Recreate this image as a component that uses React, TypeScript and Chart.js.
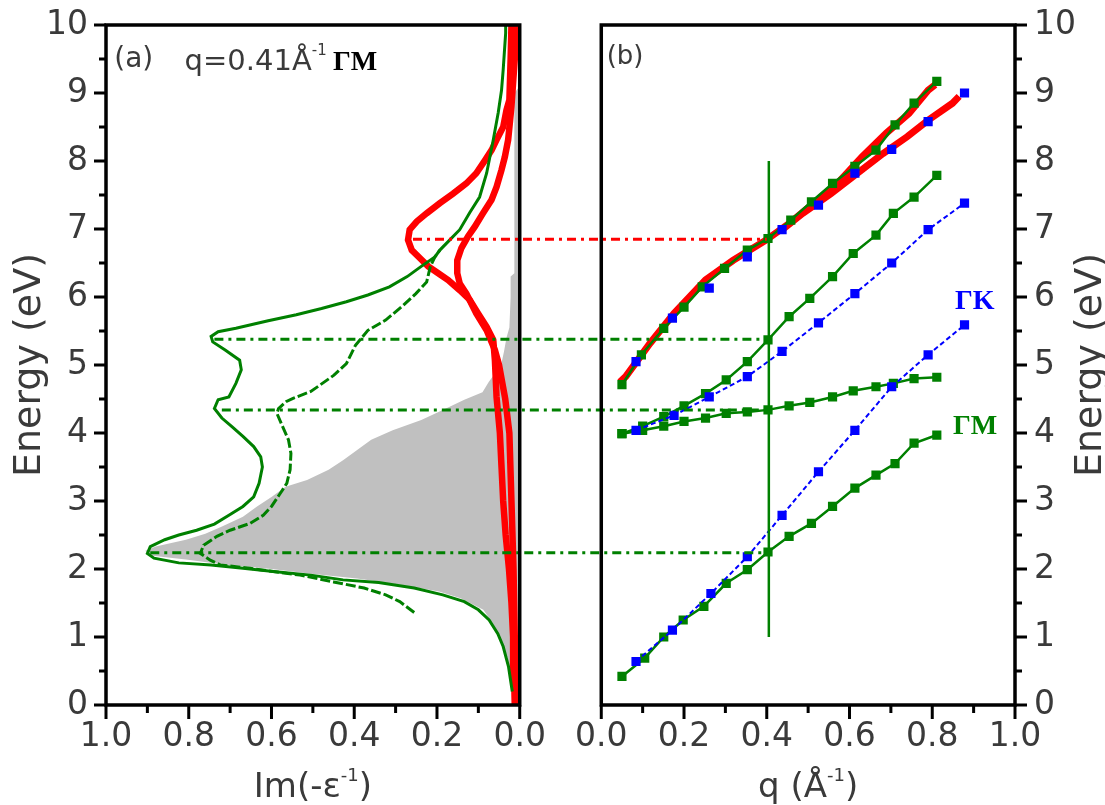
import React, { useEffect, useRef } from 'react';
import { Chart, registerables } from 'chart.js';

Chart.register(...registerables);

const SANS = "'DejaVu Sans', 'Liberation Sans', Arial, sans-serif";
const SERIF = "'Liberation Serif', 'DejaVu Serif', 'Times New Roman', serif";
const TXT = '#3a3a3a';
const GREEN = '#008000';
const RED = '#ff0000';
const BLUE = '#0000ff';
const GRAY = '#c0c0c0';

// ---------------- Panel (a): Im(-1/eps) versus energy ----------------
const grayE = [0, 0.3, 0.7, 1.0, 1.2, 1.4, 1.57, 1.67, 1.76, 1.86, 1.93, 2.0, 2.07, 2.14, 2.2, 2.27, 2.33, 2.43, 2.52, 2.62, 2.77, 2.92, 3.06, 3.21, 3.31, 3.46, 3.6, 3.75, 3.9, 4.04, 4.19, 4.34, 4.49, 4.6, 4.75, 5.0, 5.2, 5.4, 5.55, 6.0, 6.3, 6.35, 9.0, 9.1];
const grayIm = [0.012, 0.018, 0.03, 0.05, 0.065, 0.088, 0.143, 0.195, 0.281, 0.393, 0.505, 0.6, 0.72, 0.807, 0.893, 0.905, 0.88, 0.807, 0.76, 0.721, 0.669, 0.635, 0.6, 0.566, 0.514, 0.462, 0.427, 0.393, 0.359, 0.307, 0.238, 0.186, 0.134, 0.09, 0.075, 0.045, 0.038, 0.032, 0.025, 0.022, 0.022, 0.013, 0.013, 0.0];

const greenSolidE = [0.2, 0.56, 0.86, 1.05, 1.25, 1.4, 1.52, 1.62, 1.72, 1.8, 1.84, 1.91, 1.96, 2.01, 2.06, 2.09, 2.16, 2.23, 2.33, 2.43, 2.5, 2.57, 2.66, 2.79, 2.92, 3.06, 3.26, 3.5, 3.65, 3.8, 3.95, 4.09, 4.22, 4.36, 4.49, 4.53, 4.73, 4.93, 5.07, 5.22, 5.34, 5.42, 5.49, 5.54, 5.65, 5.74, 5.83, 5.93, 6.03, 6.15, 6.3, 6.45, 6.59, 6.69, 6.84, 6.99, 7.24, 7.47, 7.82, 8.31, 8.71, 9.04, 9.34, 9.88, 10];
const greenSolidIm = [0.018, 0.027, 0.04, 0.053, 0.074, 0.1, 0.134, 0.186, 0.255, 0.341, 0.427, 0.505, 0.59, 0.669, 0.746, 0.824, 0.884, 0.9, 0.893, 0.858, 0.824, 0.781, 0.738, 0.703, 0.669, 0.643, 0.63, 0.622, 0.626, 0.643, 0.669, 0.695, 0.72, 0.738, 0.729, 0.703, 0.686, 0.673, 0.677, 0.712, 0.742, 0.746, 0.729, 0.686, 0.608, 0.54, 0.479, 0.419, 0.367, 0.315, 0.272, 0.238, 0.205, 0.193, 0.169, 0.145, 0.121, 0.097, 0.08, 0.064, 0.052, 0.044, 0.04, 0.034, 0.034];

const greenDashE = [1.36, 1.52, 1.62, 1.72, 1.81, 1.91, 2.01, 2.06, 2.13, 2.23, 2.35, 2.48, 2.57, 2.67, 2.79, 2.92, 3.11, 3.26, 3.46, 3.7, 3.9, 4.12, 4.29, 4.36, 4.46, 4.51, 4.61, 4.85, 5.02, 5.29, 5.51, 5.66, 5.88, 6.05, 6.22, 6.45, 6.59, 6.69];
const greenDashIm = [0.255, 0.29, 0.324, 0.376, 0.45, 0.531, 0.652, 0.724, 0.748, 0.772, 0.764, 0.732, 0.7, 0.652, 0.62, 0.6, 0.579, 0.563, 0.555, 0.553, 0.559, 0.575, 0.587, 0.583, 0.565, 0.548, 0.505, 0.449, 0.419, 0.397, 0.367, 0.324, 0.281, 0.251, 0.225, 0.216, 0.205, 0.193];

const redAE = [0, 0.5, 1.0, 1.5, 2.0, 2.5, 3.0, 3.5, 4.0, 4.53, 5.07, 5.37, 5.56, 5.76, 5.96, 6.1, 6.25, 6.35, 6.45, 6.57, 6.69, 6.84, 6.99, 7.11, 7.23, 7.38, 7.52, 7.67, 7.82, 8.01, 8.16, 8.31, 8.5, 8.75, 8.9, 9.5, 10];
const redAIm = [0.012, 0.014, 0.016, 0.02, 0.026, 0.034, 0.04, 0.044, 0.048, 0.056, 0.06, 0.064, 0.08, 0.101, 0.121, 0.145, 0.173, 0.197, 0.221, 0.241, 0.261, 0.27, 0.266, 0.249, 0.225, 0.193, 0.161, 0.129, 0.105, 0.084, 0.068, 0.056, 0.04, 0.032, 0.025, 0.022, 0.02];

const redBE = [0, 1.0, 2.0, 3.0, 4.0, 4.5, 5.0, 5.22, 5.51, 5.76, 6.05, 6.2, 6.35, 6.54, 6.72, 6.89, 7.03, 7.23, 7.43, 7.62, 7.87, 8.06, 8.31, 8.8, 9.5, 10];
const redBIm = [0.01, 0.012, 0.015, 0.02, 0.025, 0.035, 0.05, 0.06, 0.08, 0.105, 0.129, 0.145, 0.151, 0.151, 0.141, 0.125, 0.109, 0.089, 0.068, 0.056, 0.044, 0.036, 0.028, 0.02, 0.012, 0.01];

// dash-dot guide lines linking panel (a) peaks to q = 0.41 in panel (b)
const guideE = [6.85, 5.38, 4.34, 2.24];
const guideImStart = [0.258, 0.738, 0.72, 0.893];
const guideQEnd = [0.4, 0.4, 0.4, 0.4];
const guideColor = [RED, GREEN, GREEN, GREEN];

// ---------------- Panel (b): dispersion E(q) ----------------
const qGreenTop = [0.05, 0.097, 0.151, 0.2, 0.244, 0.298, 0.353, 0.403, 0.458, 0.508, 0.559, 0.613, 0.664, 0.71, 0.756, 0.811];
const eGreenTop = [4.71, 5.15, 5.54, 5.85, 6.15, 6.42, 6.69, 6.86, 7.13, 7.4, 7.67, 7.92, 8.16, 8.53, 8.85, 9.17];

const qBlueTop = [0.084, 0.172, 0.261, 0.353, 0.437, 0.525, 0.613, 0.702, 0.79, 0.878];
const eBlueTop = [5.05, 5.69, 6.13, 6.59, 6.99, 7.35, 7.82, 8.17, 8.58, 9.0];

const qRedTopA = [0.045, 0.059, 0.118, 0.176, 0.252, 0.319, 0.399, 0.454, 0.504, 0.571, 0.63, 0.689, 0.744, 0.79, 0.807];
const eRedTopA = [4.75, 4.83, 5.32, 5.76, 6.25, 6.54, 6.84, 7.08, 7.33, 7.67, 8.06, 8.41, 8.7, 9.04, 9.12];

const qRedTopB = [0.437, 0.487, 0.555, 0.63, 0.681, 0.74, 0.79, 0.849, 0.865];
const eRedTopB = [6.99, 7.23, 7.52, 7.87, 8.11, 8.36, 8.6, 8.85, 8.95];

const qGreenMid = [0.05, 0.1, 0.151, 0.2, 0.252, 0.302, 0.353, 0.403, 0.454, 0.504, 0.559, 0.609, 0.664, 0.706, 0.756, 0.811];
const eGreenMid = [3.99, 4.1, 4.24, 4.4, 4.58, 4.78, 5.05, 5.37, 5.71, 5.98, 6.3, 6.64, 6.91, 7.23, 7.47, 7.79];

const qGreenFlat = [0.05, 0.1, 0.151, 0.2, 0.252, 0.302, 0.353, 0.403, 0.454, 0.504, 0.559, 0.609, 0.664, 0.706, 0.756, 0.811];
const eGreenFlat = [3.99, 4.04, 4.1, 4.17, 4.22, 4.29, 4.31, 4.34, 4.4, 4.45, 4.53, 4.62, 4.68, 4.73, 4.8, 4.82];

const qBlueMid = [0.084, 0.176, 0.261, 0.353, 0.437, 0.525, 0.613, 0.702, 0.79, 0.878];
const eBlueMid = [4.04, 4.26, 4.53, 4.83, 5.2, 5.62, 6.05, 6.5, 6.99, 7.38];

const qGreenLow = [0.05, 0.105, 0.151, 0.198, 0.248, 0.302, 0.353, 0.403, 0.454, 0.508, 0.559, 0.613, 0.664, 0.71, 0.756, 0.811];
const eGreenLow = [0.42, 0.69, 1.0, 1.25, 1.45, 1.79, 1.99, 2.25, 2.48, 2.67, 2.92, 3.19, 3.38, 3.55, 3.85, 3.97];

const qBlueLow = [0.084, 0.172, 0.265, 0.353, 0.437, 0.525, 0.613, 0.702, 0.79, 0.878];
const eBlueLow = [0.64, 1.1, 1.64, 2.18, 2.79, 3.43, 4.04, 4.68, 5.15, 5.59];

const qCut = [0.405, 0.405];
const eCut = [1.0, 8.0];

// axis ticks
const energyTicks = [0, 1, 2, 3, 4, 5, 6, 7, 8, 9, 10];
const fracTicks = [0, 0.2, 0.4, 0.6, 0.8, 1.0];

const xy = (xs: number[], ys: number[]) => xs.map((x, i) => ({ x, y: ys[i] }));

const leftLine = (label: string, im: number[], e: number[], color: string, width: number, dash: number[], order: number) => ({
  label,
  data: xy(im, e),
  xAxisID: 'xL',
  yAxisID: 'y',
  indexAxis: 'y',
  borderColor: color,
  backgroundColor: color,
  borderWidth: width,
  borderDash: dash,
  pointRadius: 0,
  fill: false,
  tension: 0,
  order,
});

const rightLine = (label: string, q: number[], e: number[], color: string, width: number, dash: number[], marker: boolean, order: number, showLine = true) => ({
  label,
  data: xy(q, e),
  xAxisID: 'xR',
  yAxisID: 'y',
  borderColor: color,
  backgroundColor: color,
  pointBackgroundColor: color,
  borderWidth: width,
  borderDash: dash,
  pointStyle: 'rect',
  pointRadius: marker ? 6.5 : 0,
  pointBorderWidth: 0,
  showLine,
  fill: false,
  tension: 0,
  order,
});

const PANEL_FRAC = 414 / 909.6;

function richText(ctx: CanvasRenderingContext2D, parts: { t: string; font: string; dy: number; color?: string }[], x: number, y: number, align: 'left' | 'center') {
  let total = 0;
  for (const p of parts) {
    ctx.font = p.font;
    total += ctx.measureText(p.t).width;
  }
  let cx = align === 'center' ? x - total / 2 : x;
  ctx.textAlign = 'left';
  for (const p of parts) {
    ctx.font = p.font;
    ctx.fillStyle = p.color || TXT;
    ctx.fillText(p.t, cx, y + p.dy);
    cx += ctx.measureText(p.t).width;
  }
}

const panelPlugin = {
  id: 'panels',
  afterLayout(chart: any) {
    const { left, right } = chart.chartArea;
    const w = (right - left) * PANEL_FRAC;
    const xL = chart.scales.xL;
    const xR = chart.scales.xR;
    xL.left = left; xL.right = left + w; xL.width = w; xL.configure();
    xR.left = right - w; xR.right = right; xR.width = w; xR.configure();
  },
  afterDatasetsDraw(chart: any) {
    const ctx: CanvasRenderingContext2D = chart.ctx;
    const { xL, xR, y } = chart.scales;
    ctx.save();
    // guide lines
    ctx.lineWidth = 3;
    ctx.setLineDash([9, 5, 3, 5]);
    guideE.forEach((e, i) => {
      const py = y.getPixelForValue(e);
      ctx.strokeStyle = guideColor[i];
      ctx.beginPath();
      ctx.moveTo(xL.getPixelForValue(guideImStart[i]), py);
      ctx.lineTo(xR.getPixelForValue(guideQEnd[i]), py);
      ctx.stroke();
    });
    ctx.setLineDash([]);
    // frames
    ctx.strokeStyle = '#000';
    ctx.lineWidth = 3.5;
    ctx.strokeRect(xL.left, y.top, xL.right - xL.left, y.bottom - y.top);
    ctx.strokeRect(xR.left, y.top, xR.right - xR.left, y.bottom - y.top);
    // ticks
    ctx.lineWidth = 3;
    ctx.beginPath();
    for (let k = 0; k <= 20; k++) {
      const e = k / 2;
      const py = y.getPixelForValue(e);
      const len = k % 2 === 0 ? 12 : 7;
      ctx.moveTo(xL.left, py); ctx.lineTo(xL.left - len, py);
      ctx.moveTo(xR.right, py); ctx.lineTo(xR.right + len, py);
    }
    for (let k = 0; k <= 10; k++) {
      const v = k / 10;
      const len = k % 2 === 0 ? 14 : 8;
      const pl = xL.getPixelForValue(v);
      const pr = xR.getPixelForValue(v);
      ctx.moveTo(pl, y.bottom); ctx.lineTo(pl, y.bottom + len);
      ctx.moveTo(pr, y.bottom); ctx.lineTo(pr, y.bottom + len);
    }
    ctx.stroke();
    ctx.restore();
  },
  afterDraw(chart: any) {
    const ctx: CanvasRenderingContext2D = chart.ctx;
    const { xL, xR, y } = chart.scales;
    const area = chart.chartArea;
    ctx.save();
    ctx.textBaseline = 'alphabetic';
    // panel annotations
    richText(ctx, [{ t: '(a)', font: `28px ${SANS}`, dy: 0 }], xL.getPixelForValue(0.98), y.getPixelForValue(9.38), 'left');
    richText(ctx, [
      { t: 'q=0.41Å', font: `29px ${SANS}`, dy: 0 },
      { t: '-1', font: `15px ${SANS}`, dy: -15 },
      { t: ' ', font: `20px ${SANS}`, dy: 0 },
      { t: 'ΓM', font: `bold 28px ${SERIF}`, dy: 0, color: '#000' },
    ], xL.getPixelForValue(0.81), y.getPixelForValue(9.34), 'left');
    richText(ctx, [{ t: '(b)', font: `26px ${SANS}`, dy: 0 }], xR.getPixelForValue(0.013), y.getPixelForValue(9.42), 'left');
    richText(ctx, [{ t: 'ΓK', font: `bold 28px ${SERIF}`, dy: 0, color: BLUE }], xR.getPixelForValue(0.855), y.getPixelForValue(5.82), 'left');
    richText(ctx, [{ t: 'ΓM', font: `bold 28px ${SERIF}`, dy: 0, color: GREEN }], xR.getPixelForValue(0.85), y.getPixelForValue(3.98), 'left');
    // x-axis titles
    const ty = area.bottom + 92;
    richText(ctx, [
      { t: 'Im(-ε', font: `34px ${SANS}`, dy: 0 },
      { t: '-1', font: `18px ${SANS}`, dy: -16 },
      { t: ')', font: `34px ${SANS}`, dy: 0 },
    ], (xL.left + xL.right) / 2, ty, 'center');
    richText(ctx, [
      { t: 'q (Å', font: `34px ${SANS}`, dy: 0 },
      { t: '-1', font: `18px ${SANS}`, dy: -16 },
      { t: ')', font: `34px ${SANS}`, dy: 0 },
    ], (xR.left + xR.right) / 2, ty, 'center');
    // y-axis titles (both read bottom-to-top)
    const cy = (area.top + area.bottom) / 2;
    for (const cx of [area.left - 76, area.right + 76]) {
      ctx.save();
      ctx.translate(cx, cy);
      ctx.rotate(-Math.PI / 2);
      ctx.font = `38px ${SANS}`;
      ctx.fillStyle = TXT;
      ctx.textAlign = 'center';
      ctx.textBaseline = 'middle';
      ctx.fillText('Energy (eV)', 0, 0);
      ctx.restore();
    }
    ctx.restore();
  },
};

const tickFont = { family: SANS, size: 33 };

const fitY = (w: number) => (s: any) => {
  s.width = w;
  s.paddingTop = 0;
  s.paddingBottom = 0;
};

export default function App() {
  const ref = useRef<HTMLCanvasElement>(null);
  useEffect(() => {
    document.body.style.margin = '0';
    document.body.style.overflow = 'hidden';
    const datasets: any[] = [
      // panel (a)
      {
        label: 'loss function',
        data: xy(grayIm, grayE),
        xAxisID: 'xL',
        yAxisID: 'y',
        indexAxis: 'y',
        borderWidth: 0,
        borderColor: GRAY,
        backgroundColor: GRAY,
        pointRadius: 0,
        fill: 'origin',
        tension: 0,
        order: 20,
      },
      leftLine('exp A', redAIm, redAE, RED, 6.5, [], 12),
      leftLine('exp B', redBIm, redBE, RED, 6.5, [], 12),
      leftLine('calc', greenSolidIm, greenSolidE, GREEN, 3, [], 8),
      leftLine('calc dashed', greenDashIm, greenDashE, GREEN, 3, [10, 3], 8),
      // panel (b)
      rightLine('red A', qRedTopA, eRedTopA, RED, 7, [], false, 12),
      rightLine('red B', qRedTopB, eRedTopB, RED, 7, [], false, 12),
      rightLine('GM top', qGreenTop, eGreenTop, GREEN, 2.5, [], true, 6),
      rightLine('GM mid', qGreenMid, eGreenMid, GREEN, 2.5, [], true, 6),
      rightLine('GM flat', qGreenFlat, eGreenFlat, GREEN, 2.5, [], true, 6),
      rightLine('GM low', qGreenLow, eGreenLow, GREEN, 2.5, [], true, 6),
      rightLine('GK top', qBlueTop, eBlueTop, BLUE, 2, [5, 3], true, 5, false),
      rightLine('GK mid', qBlueMid, eBlueMid, BLUE, 2, [5, 3], true, 5),
      rightLine('GK low', qBlueLow, eBlueLow, BLUE, 2, [5, 3], true, 5),
      rightLine('q cut', qCut, eCut, GREEN, 2.5, [], false, 2),
    ];
    const chart = new Chart(ref.current as HTMLCanvasElement, {
      type: 'line',
      data: { datasets },
      options: {
        responsive: false,
        animation: false,
        devicePixelRatio: 1,
        layout: { padding: { top: 25, left: 0, right: 0, bottom: 0 } },
        plugins: { legend: { display: false }, tooltip: { enabled: false } },
        scales: {
          xL: {
            type: 'linear', axis: 'x', position: 'bottom', stack: 'bottom', stackWeight: 1,
            min: 0, max: 1, reverse: true,
            grid: { display: false, drawTicks: false }, border: { display: false },
            afterBuildTicks: (s: any) => { s.ticks = fracTicks.map((v) => ({ value: v })); },
            ticks: { font: tickFont, color: TXT, padding: 13, maxRotation: 0, autoSkip: false, callback: (v: any) => Number(v).toFixed(1) },
            afterFit: (s: any) => { s.height = 100; },
          },
          xR: {
            type: 'linear', axis: 'x', position: 'bottom', stack: 'bottom', stackWeight: 1,
            min: 0, max: 1,
            grid: { display: false, drawTicks: false }, border: { display: false },
            afterBuildTicks: (s: any) => { s.ticks = fracTicks.map((v) => ({ value: v })); },
            ticks: { font: tickFont, color: TXT, padding: 13, maxRotation: 0, autoSkip: false, callback: (v: any) => Number(v).toFixed(1) },
            afterFit: (s: any) => { s.height = 100; },
          },
          y: {
            type: 'linear', axis: 'y', position: 'left', min: 0, max: 10,
            grid: { display: false, drawTicks: false }, border: { display: false },
            afterBuildTicks: (s: any) => { s.ticks = energyTicks.map((v) => ({ value: v })); },
            ticks: { font: tickFont, color: TXT, padding: 18, autoSkip: false },
            afterFit: fitY(106),
          },
          y2: {
            type: 'linear', axis: 'y', position: 'right', min: 0, max: 10,
            grid: { display: false, drawTicks: false }, border: { display: false },
            afterBuildTicks: (s: any) => { s.ticks = energyTicks.map((v) => ({ value: v })); },
            ticks: { font: tickFont, color: TXT, padding: 19, autoSkip: false },
            afterFit: fitY(90),
          },
        },
      } as any,
      plugins: [panelPlugin],
    });
    return () => chart.destroy();
  }, []);
  return <canvas ref={ref} width={1105} height={805} style={{ display: 'block' }} />;
}
